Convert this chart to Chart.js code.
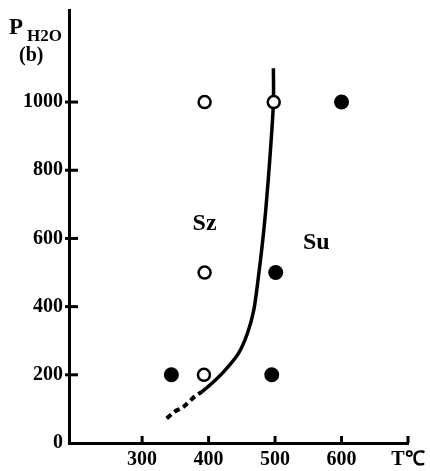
<!DOCTYPE html>
<html lang="zh">
<head>
  <meta charset="UTF-8" />
  <title>PH2O - T</title>
  <script src="https://cdn.jsdelivr.net/npm/chart.js"></script>
  <style>
    * { box-sizing: border-box; }
    body { margin: 0; background: #fff; }
    #wrap { width: 430px; height: 471px; position: relative; }
  </style>
</head>
<body>
  <div id="wrap"><canvas id="grafico"></canvas></div>
  <script>
    // valores
    const xTicks = [300, 400, 500, 600, 700];
    const yTicks = [0, 200, 400, 600, 800, 1000];

    const abiertosX = [394, 498, 394, 393];
    const abiertosY = [1000, 1000, 500, 200];
    const llenosX = [600, 501, 344, 495];
    const llenosY = [1000, 500, 200, 200];

    const curvaX = [390, 405, 425, 445, 458.5, 468, 475, 481, 486, 492, 497.5, 497.5];
    const curvaY = [150, 175, 214, 263, 322, 390, 488, 586, 684, 830, 996, 1099];
    const trazosX = [337, 349, 362, 379, 390];
    const trazosY = [72, 92, 106, 136, 150];

    const regiones = ['Sz', 'Su'];
    const regionX = [394, 562];
    const regionY = [643, 587];

    const fuente = 'Liberation Serif';
    const pares = (xs, ys) => xs.map((x, i) => ({ x, y: ys[i] }));

    const extras = {
      id: 'extras',
      afterDraw(chart) {
        const { ctx, scales: { x, y }, chartArea: a } = chart;
        ctx.save();
        ctx.strokeStyle = '#000';
        ctx.lineWidth = 3;
        // marcas hacia dentro
        yTicks.slice(1).forEach(v => {
          const p = y.getPixelForValue(v);
          ctx.beginPath(); ctx.moveTo(a.left - 4, p); ctx.lineTo(a.left + 9, p); ctx.stroke();
        });
        xTicks.forEach(v => {
          const p = x.getPixelForValue(v);
          ctx.beginPath(); ctx.moveTo(p, a.bottom); ctx.lineTo(p, a.bottom - 7); ctx.stroke();
        });
        ctx.fillStyle = '#000';
        ctx.textBaseline = 'alphabetic';
        ctx.font = `bold 23px "${fuente}"`;
        ctx.fillText('P', 9, 34);
        ctx.font = `bold 17px "${fuente}"`;
        ctx.fillText('H2O', 27, 41);
        ctx.font = `bold 20px "${fuente}"`;
        ctx.fillText('(b)', 19, 61);
        ctx.font = `bold 24px "${fuente}"`;
        ctx.textAlign = 'center';
        ctx.textBaseline = 'middle';
        regiones.forEach((t, i) => {
          ctx.fillText(t, x.getPixelForValue(regionX[i]), y.getPixelForValue(regionY[i]));
        });
        ctx.restore();
      }
    };

    const tickFont = { family: fuente, size: 20, weight: 'bold' };

    new Chart(document.getElementById('grafico'), {
      type: 'scatter',
      data: {
        datasets: [
          { data: pares(abiertosX, abiertosY), pointRadius: 6, pointBackgroundColor: '#fff', pointBorderColor: '#000', pointBorderWidth: 2.5, order: 0 },
          { data: pares(llenosX, llenosY), pointRadius: 7.5, pointBackgroundColor: '#000', pointBorderColor: '#000', pointBorderWidth: 0, order: 0 },
          { data: pares(curvaX, curvaY), showLine: true, pointRadius: 0, borderColor: '#000', borderWidth: 3.5, tension: 0.3, order: 2 },
          { data: pares(trazosX, trazosY), showLine: true, pointRadius: 0, borderColor: '#000', borderWidth: 4, borderDash: [6, 4], tension: 0.3, order: 2 }
        ]
      },
      options: {
        responsive: true,
        maintainAspectRatio: false,
        animation: false,
        layout: { padding: { top: 10, right: 22, left: 0, bottom: 0 } },
        plugins: { legend: { display: false }, tooltip: { enabled: false } },
        scales: {
          x: {
            type: 'linear', min: 190, max: 700,
            afterBuildTicks: s => { s.ticks = xTicks.map(v => ({ value: v })); },
            afterFit: s => { s.height = 28; s.paddingLeft = 0; s.paddingRight = 0; },
            grid: { display: false, drawTicks: false },
            border: { color: '#000', width: 3 },
            ticks: { color: '#000', font: tickFont, padding: 5, maxRotation: 0, callback: v => v === 700 ? 'T℃' : String(v) }
          },
          y: {
            type: 'linear', min: 0, max: 1270,
            afterBuildTicks: s => { s.ticks = yTicks.map(v => ({ value: v })); },
            afterFit: s => { s.width = 69; s.paddingTop = 0; s.paddingBottom = 0; },
            grid: { display: false, drawTicks: false },
            border: { color: '#000', width: 3 },
            ticks: { color: '#000', font: tickFont, padding: 6, callback: v => String(v) }
          }
        }
      },
      plugins: [extras]
    });
  </script>
</body>
</html>
